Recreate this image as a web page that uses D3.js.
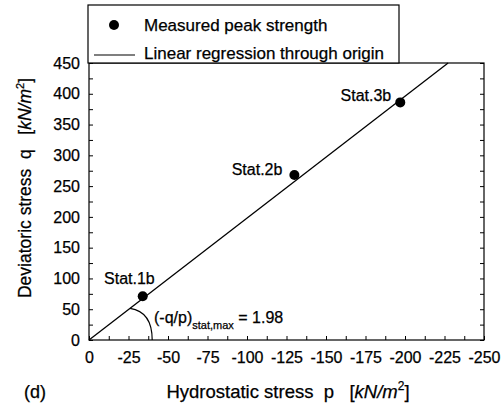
<!DOCTYPE html>
<html>
<head>
<meta charset="utf-8">
<script src="https://cdn.jsdelivr.net/npm/d3@7"></script>
<style>
  body { margin: 0; background: #fff; }
  svg { font-family: "Liberation Sans", Arial, sans-serif; }
  text { white-space: pre; stroke: #000; stroke-width: 0.25px; }
</style>
</head>
<body>
<div id="chart"></div>
<script>
// measured peak strength points
const stations = ['Stat.1b', 'Stat.2b', 'Stat.3b'];
const pValues = [-34, -130, -197];
const qValues = [71, 268, 386];
const slope = 1.98; // -q/p

const xTicks = [0, -25, -50, -75, -100, -125, -150, -175, -200, -225, -250];
const yTicks = [0, 50, 100, 150, 200, 250, 300, 350, 400, 450];

const width = 504;
const height = 406;
const margin = { top: 63, right: 20, bottom: 66, left: 89 };

const usableArea = {
  top: margin.top,
  right: width - margin.right,
  bottom: height - margin.bottom,
  left: margin.left,
};

const svg = d3.select('#chart')
  .append('svg')
  .attr('width', width)
  .attr('height', height);

const xScale = d3.scaleLinear()
  .domain([0, -250])
  .range([usableArea.left, usableArea.right]);

const yScale = d3.scaleLinear()
  .domain([0, 450])
  .range([usableArea.bottom, usableArea.top]);

// minor ticks every half step
const xMinor = d3.range(0, -250.1, -12.5);
const yMinor = d3.range(0, 450.1, 25);

// x axis (ticks inward), plain hyphen for minus
const xAxis = svg.append('g')
  .attr('transform', `translate(0, ${usableArea.bottom})`)
  .call(d3.axisBottom(xScale).tickValues(xTicks).tickSize(0).tickPadding(12).tickFormat(d => String(d)));
xAxis.select('.domain').remove();
xAxis.selectAll('text').attr('font-size', 16).attr('fill', '#000');

svg.append('g')
  .attr('transform', `translate(0, ${usableArea.bottom})`)
  .call(d3.axisBottom(xScale).tickValues(xMinor).tickSize(-4).tickFormat(''))
  .call(g => g.select('.domain').remove());

// y axis
const yAxis = svg.append('g')
  .attr('transform', `translate(${usableArea.left}, 0)`)
  .call(d3.axisLeft(yScale).tickValues(yTicks).tickSize(0).tickPadding(9));
yAxis.select('.domain').remove();
yAxis.selectAll('text').attr('font-size', 16).attr('fill', '#000');

svg.append('g')
  .attr('transform', `translate(${usableArea.left}, 0)`)
  .call(d3.axisLeft(yScale).tickValues(yMinor).tickSize(-4).tickFormat(''))
  .call(g => g.select('.domain').remove());

svg.append('g')
  .attr('transform', `translate(${usableArea.right}, 0)`)
  .call(d3.axisRight(yScale).tickValues(yMinor).tickSize(-4).tickFormat(''))
  .call(g => g.select('.domain').remove());

// frame
svg.append('rect')
  .attr('x', usableArea.left)
  .attr('y', usableArea.top)
  .attr('width', usableArea.right - usableArea.left)
  .attr('height', usableArea.bottom - usableArea.top)
  .attr('fill', 'none')
  .attr('stroke', '#000')
  .attr('stroke-width', 1.2);

// regression line through origin, clipped at top of plot
const pEnd = -450 / slope;
svg.append('line')
  .attr('x1', xScale(0))
  .attr('y1', yScale(0))
  .attr('x2', xScale(pEnd))
  .attr('y2', yScale(450))
  .attr('stroke', '#000')
  .attr('stroke-width', 1.3);

// angle arc
const arcStart = -26, arcEnd = -40;
svg.append('path')
  .attr('d', `M${xScale(arcStart)},${yScale(-slope * arcStart)} Q${xScale(arcEnd)},${yScale(46)} ${xScale(arcEnd)},${yScale(0)}`)
  .attr('fill', 'none')
  .attr('stroke', '#000')
  .attr('stroke-width', 1.2);

// points
svg.append('g')
  .selectAll('circle')
  .data(stations)
  .join('circle')
  .attr('cx', (d, i) => xScale(pValues[i]))
  .attr('cy', (d, i) => yScale(qValues[i]))
  .attr('r', 5)
  .attr('fill', '#000');

// point labels (offsets in px from the point)
const labelDx = [12, -12, -9];
const labelDy = [-12, 0, -1];
svg.append('g')
  .selectAll('text')
  .data(stations)
  .join('text')
  .attr('x', (d, i) => xScale(pValues[i]) + labelDx[i])
  .attr('y', (d, i) => yScale(qValues[i]) + labelDy[i])
  .attr('text-anchor', 'end')
  .attr('font-size', 16)
  .text(d => d);

// slope annotation
const ann = svg.append('text')
  .attr('x', 154)
  .attr('y', 323)
  .attr('font-size', 16);
ann.append('tspan').text('(-q/p)');
ann.append('tspan').attr('dy', 6).attr('font-size', 11).text('stat,max');
ann.append('tspan').attr('dy', -6).text(` = ${slope.toFixed(2)}`);

// axis titles
const xt = svg.append('text')
  .attr('x', 288)
  .attr('y', 398)
  .attr('text-anchor', 'middle')
  .attr('font-size', 18.5);
xt.append('tspan').text('Hydrostatic stress  p   [');
xt.append('tspan').attr('font-style', 'italic').text('kN/m');
xt.append('tspan').attr('dy', -8).attr('font-size', 12).text('2');
xt.append('tspan').attr('dy', 8).text(']');

const yt = svg.append('text')
  .attr('transform', 'translate(31, 188) rotate(-90)')
  .attr('text-anchor', 'middle')
  .attr('font-size', 17.5);
yt.append('tspan').text('Deviatoric stress  q   [');
yt.append('tspan').attr('font-style', 'italic').text('kN/m');
yt.append('tspan').attr('dy', -7).attr('font-size', 11).text('2');
yt.append('tspan').attr('dy', 7).text(']');

svg.append('text')
  .attr('x', 24)
  .attr('y', 398)
  .attr('font-size', 18)
  .text('(d)');

// legend
const legend = svg.append('g');
legend.append('rect')
  .attr('x', 88)
  .attr('y', 5)
  .attr('width', 311)
  .attr('height', 58)
  .attr('fill', '#fff')
  .attr('stroke', '#000')
  .attr('stroke-width', 1.2);
legend.append('circle')
  .attr('cx', 114)
  .attr('cy', 25)
  .attr('r', 5)
  .attr('fill', '#000');
legend.append('text')
  .attr('x', 144)
  .attr('y', 31)
  .attr('font-size', 17)
  .text('Measured peak strength');
legend.append('line')
  .attr('x1', 94)
  .attr('x2', 135)
  .attr('y1', 55)
  .attr('y2', 55)
  .attr('stroke', '#000')
  .attr('stroke-width', 1.2);
legend.append('text')
  .attr('x', 144)
  .attr('y', 59)
  .attr('font-size', 17)
  .text('Linear regression through origin');
</script>
</body>
</html>
